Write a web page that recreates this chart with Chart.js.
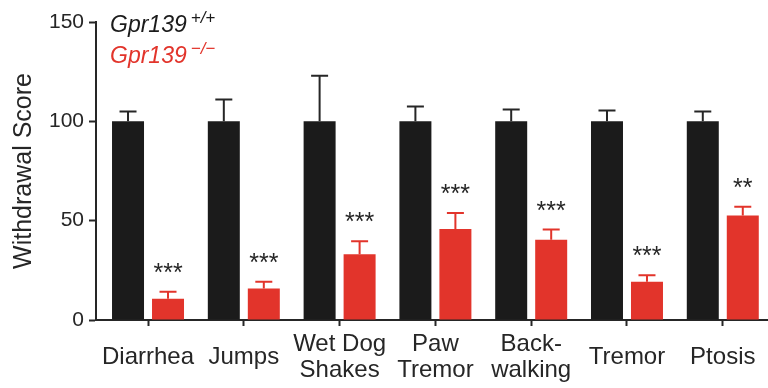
<!DOCTYPE html>
<html>
<head>
<meta charset="utf-8">
<script src="https://cdn.jsdelivr.net/npm/chart.js@4/dist/chart.umd.min.js"></script>
<style>
  html, body { margin: 0; padding: 0; background: #fff; overflow: hidden; }
  canvas { display: block; }
</style>
</head>
<body>
<canvas id="chart" width="768" height="388"></canvas>
<script>
// Withdrawal signs, normalised to wild-type (= 100)
const categories = ['Diarrhea', 'Jumps', ['Wet Dog', 'Shakes'], ['Paw', 'Tremor'], ['Back-', 'walking'], 'Tremor', 'Ptosis'];
const wildType = [100, 100, 100, 100, 100, 100, 100];
const wildTypeSem = [5, 11, 23, 7.5, 6, 5.5, 5];
const knockout = [10.7, 15.9, 33.1, 45.8, 40.4, 19.3, 52.6];
const knockoutSem = [3.5, 3.4, 6.6, 8, 5.1, 3.2, 4.4];
const significance = ['***', '***', '***', '***', '***', '***', '**'];
const yTicks = [0, 50, 100, 150];

const BLACK = '#1b1b1b';
const RED = '#e2342b';
const INK = '#262626';
const FONT = '"Liberation Sans", Arial, Helvetica, sans-serif';

// One-sided (upper) SEM whiskers plus significance stars over the knockout bars
const errorBars = {
  id: 'errorBars',
  afterDatasetsDraw(chart) {
    const ctx = chart.ctx;
    const yScale = chart.scales.y;
    chart.data.datasets.forEach((ds, di) => {
      const meta = chart.getDatasetMeta(di);
      meta.data.forEach((bar, i) => {
        const top = yScale.getPixelForValue(ds.data[i].y + ds.sem[i]);
        ctx.save();
        ctx.strokeStyle = ds.whiskerColor;
        ctx.lineWidth = 2;
        ctx.beginPath();
        ctx.moveTo(bar.x, bar.y);
        ctx.lineTo(bar.x, top);
        ctx.moveTo(bar.x - 8.5, top);
        ctx.lineTo(bar.x + 8.5, top);
        ctx.stroke();
        if (ds.stars) {
          ctx.font = '25px ' + FONT;
          ctx.fillStyle = INK;
          ctx.textAlign = 'center';
          ctx.textBaseline = 'alphabetic';
          const m = ctx.measureText(ds.stars[i]);
          const mid = top - 24;
          const base = mid + (m.actualBoundingBoxAscent - m.actualBoundingBoxDescent) / 2;
          ctx.fillText(ds.stars[i], bar.x, base);
        }
        ctx.restore();
      });
    });
  }
};

// Genotype key in the top-left corner
const genotypeKey = {
  id: 'genotypeKey',
  afterDraw(chart) {
    const ctx = chart.ctx;
    const rows = [
      { color: BLACK, sup: '+/+', base: 32 },
      { color: RED, sup: '\u2212/\u2212', base: 63 }
    ];
    ctx.save();
    ctx.textAlign = 'left';
    ctx.textBaseline = 'alphabetic';
    rows.forEach(r => {
      ctx.fillStyle = r.color;
      ctx.font = 'italic 23px ' + FONT;
      ctx.fillText('Gpr139', 110, r.base);
      const w = ctx.measureText('Gpr139').width;
      ctx.font = 'italic 17px ' + FONT;
      ctx.fillText(r.sup, 110 + w + 4, r.base - 9);
    });
    ctx.restore();
  }
};

const axisLine = { display: true, color: INK, width: 2 };

new Chart(document.getElementById('chart'), {
  type: 'bar',
  data: {
    datasets: [
      {
        label: 'Gpr139 +/+',
        data: wildType.map((v, i) => ({ x: i, y: v })),
        sem: wildTypeSem,
        whiskerColor: INK,
        backgroundColor: BLACK,
        borderWidth: 0
      },
      {
        label: 'Gpr139 \u2212/\u2212',
        data: knockout.map((v, i) => ({ x: i, y: v })),
        sem: knockoutSem,
        stars: significance,
        whiskerColor: RED,
        backgroundColor: RED,
        borderWidth: 0
      }
    ]
  },
  options: {
    responsive: false,
    animation: false,
    devicePixelRatio: 1,
    categoryPercentage: 0.835,
    barPercentage: 0.8,
    layout: { padding: { top: 22, right: 0, left: 0, bottom: 0 } },
    plugins: {
      legend: { display: false },
      tooltip: { enabled: false }
    },
    scales: {
      x: {
        type: 'linear',
        min: -0.543,
        max: 6.472,
        offset: false,
        border: axisLine,
        grid: { offset: false, drawOnChartArea: false, tickLength: 6, tickWidth: 2, tickColor: INK },
        afterBuildTicks(scale) {
          scale.ticks = categories.map((_, i) => ({ value: i }));
        },
        afterFit(scale) {
          scale.height = 68;
          scale.paddingLeft = 0;
          scale.paddingRight = 0;
        },
        ticks: {
          autoSkip: false,
          maxRotation: 0,
          minRotation: 0,
          crossAlign: 'center',
          padding: 18,
          color: INK,
          font: { family: FONT, size: 24, lineHeight: 1.11 },
          callback: (v) => categories[v]
        }
      },
      y: {
        min: 0,
        max: 150,
        border: axisLine,
        grid: { drawOnChartArea: false, tickLength: 7, tickWidth: 2, tickColor: INK },
        afterBuildTicks(scale) {
          scale.ticks = yTicks.map(v => ({ value: v }));
        },
        afterFit(scale) { scale.width = 96; },
        ticks: {
          padding: 5,
          color: INK,
          font: { family: FONT, size: 21 }
        },
        title: {
          display: true,
          text: 'Withdrawal Score',
          color: INK,
          font: { family: FONT, size: 25 },
          padding: { top: 9, bottom: 0 }
        }
      }
    }
  },
  plugins: [errorBars, genotypeKey]
});
</script>
</body>
</html>
